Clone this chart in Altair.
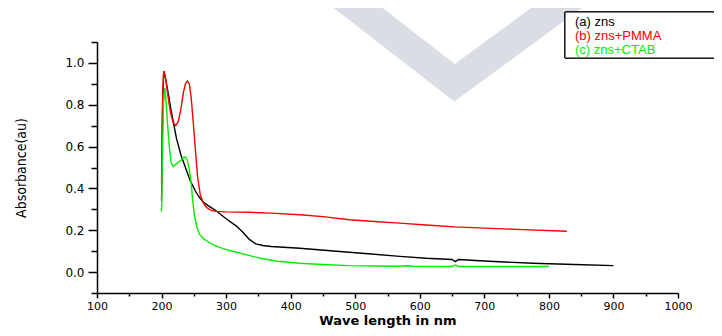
import altair as alt
import pandas as pd

# ---- data ----
names = ["(a) zns", "(b) zns+PMMA", "(c) zns+CTAB"]
colors = ["#000000", "#ff0000", "#00ee00"]

zns_x = [200, 201, 202, 203.5, 206, 210, 215, 220, 223, 230, 237, 244, 252, 258, 264, 272, 280, 288,
         300, 316, 326, 336, 346, 357, 370, 414, 481, 520, 569, 610, 650, 655, 660, 700, 775, 840, 900]
zns_y = [0.34, 0.6, 0.85, 0.96, 0.93, 0.86, 0.77, 0.69, 0.64, 0.56, 0.5, 0.44, 0.39, 0.36, 0.336, 0.318, 0.302, 0.285,
         0.255, 0.22, 0.19, 0.156, 0.135, 0.127, 0.122, 0.114, 0.097, 0.088, 0.075, 0.066, 0.06, 0.05, 0.06, 0.053, 0.042, 0.036, 0.031]

pmma_x = [200, 201, 203, 204, 206, 210, 214, 218, 222, 226, 230, 234, 237, 240, 243, 246, 249, 252, 256, 260,
          264, 268, 272, 278, 285, 300, 336, 370, 414, 450, 491, 530, 569, 610, 654, 700, 760, 828]
pmma_y = [0.42, 0.75, 0.95, 0.96, 0.93, 0.84, 0.76, 0.715, 0.70, 0.72, 0.78, 0.86, 0.9, 0.914, 0.9, 0.83, 0.72, 0.6, 0.45, 0.37,
          0.336, 0.315, 0.303, 0.294, 0.29, 0.288, 0.286, 0.282, 0.274, 0.265, 0.25, 0.242, 0.234, 0.225, 0.216, 0.21, 0.203, 0.195]

ctab_x = [200, 201, 203, 205, 207, 209, 212, 215, 218, 222, 226, 230, 234, 237, 240, 243, 246, 248, 251, 255, 259,
          265, 272, 282, 295, 313, 335, 355, 380, 414, 450, 491, 530, 569, 580, 590, 650, 655, 660, 700, 760, 800]
ctab_y = [0.29, 0.5, 0.8, 0.88, 0.82, 0.72, 0.6, 0.52, 0.505, 0.515, 0.525, 0.535, 0.548, 0.55, 0.535, 0.49, 0.42, 0.35, 0.27, 0.21, 0.18,
          0.16, 0.145, 0.128, 0.112, 0.097, 0.08, 0.065, 0.052, 0.042, 0.036, 0.031, 0.029, 0.028, 0.03, 0.028, 0.027, 0.034, 0.027, 0.027, 0.027, 0.027]

# watermark chevron (decorative, in data units)
wm_x = [468, 654, 850]
wm_y = [1.35, 0.905, 1.35]

x_ticks = list(range(100, 1001, 50))
y_ticks = [round(-0.1 + 0.1 * i, 1) for i in range(13)]

rows = []
for name, xs, ys in zip(names, [zns_x, pmma_x, ctab_x], [zns_y, pmma_y, ctab_y]):
    for i, (a, b) in enumerate(zip(xs, ys)):
        rows.append({"series": name, "wl": a, "abs": b, "order": i})
df = pd.DataFrame(rows)
wm = pd.DataFrame({"wl": wm_x, "abs": wm_y, "order": range(len(wm_x))})
leg = pd.DataFrame({"series": names})

FONT = "DejaVu Sans"

x_scale = alt.Scale(domain=[100, 1000], nice=False, zero=False)
y_scale = alt.Scale(domain=[-0.1, 1.1], nice=False, zero=False)
color_scale = alt.Scale(domain=names, range=colors)

x_axis = alt.Axis(
    title="Wave length in nm", values=x_ticks, grid=False,
    labelExpr="datum.value % 100 == 0 ? format(datum.value, 'd') : ''",
    tickSize={"condition": {"test": "datum.value % 100 == 0", "value": 5}, "value": 3},
    labelFont=FONT, labelFontSize=11, labelColor="black", labelPadding=2, labelFlush=False,
    titleFont=FONT, titleFontSize=13, titleFontWeight="bold", titleColor="black", titlePadding=3,
    domainColor="black", domainWidth=1.5, tickColor="black", tickWidth=1.5,
)
y_axis = alt.Axis(
    title="Absorbance(au)", values=y_ticks, grid=False,
    labelExpr="abs(round(datum.value*10)) % 2 == 0 && datum.value >= 0 ? format(datum.value, '.1f') : ''",
    tickSize={"condition": {"test": "abs(round(datum.value*10)) % 2 == 0", "value": 9}, "value": 6},
    labelFont=FONT, labelFontSize=12, labelColor="black", labelPadding=4, labelFlush=False,
    titleFont="'DejaVu Sans Condensed', 'Liberation Sans Narrow', 'Liberation Sans', sans-serif",
    titleFontSize=14, titleFontWeight="normal", titleColor="black",
    titlePadding=36,
    domainColor="black", domainWidth=1.5, tickColor="black", tickWidth=1.5,
)

watermark = alt.Chart(wm).mark_line(
    color="#d9dee4", strokeWidth=30, clip=False, strokeJoin="miter", strokeCap="butt"
).encode(
    x=alt.X("wl:Q", scale=x_scale, axis=x_axis),
    y=alt.Y("abs:Q", scale=y_scale, axis=y_axis),
    order="order:Q",
)

lines = alt.Chart(df).mark_line(strokeWidth=1.4).encode(
    x=alt.X("wl:Q", scale=x_scale, axis=x_axis),
    y=alt.Y("abs:Q", scale=y_scale, axis=y_axis),
    color=alt.Color("series:N", scale=color_scale, sort=names, legend=None),
    order="order:Q",
)

# legend box + coloured labels
legend_box = alt.Chart(leg).mark_rect(
    fill="white", stroke="black", strokeWidth=1, clip=False
).encode(
    x=alt.value(468), x2=alt.value(640), y=alt.value(-30), y2=alt.value(16)
)
legend_layers = []
for i, name in enumerate(names):
    legend_layers.append(
        alt.Chart(leg).transform_filter(alt.datum.series == name).mark_text(
            align="left", baseline="middle", font="Liberation Sans", fontSize=13, clip=False
        ).encode(
            x=alt.value(478),
            y=alt.value(-20 + 14 * i),
            text="series:N",
            color=alt.Color("series:N", scale=color_scale, sort=names, legend=None),
        )
    )

chart = alt.layer(watermark, lines, legend_box, *legend_layers).properties(
    width=581, height=251,
    background="white",
    autosize=alt.AutoSizeParams(type="none"),
    padding={"left": 89, "top": 34, "right": 36, "bottom": 35},
).configure_view(stroke=None, strokeWidth=0)

chart.save("out.html", embed_options={"renderer": "svg", "actions": False})
